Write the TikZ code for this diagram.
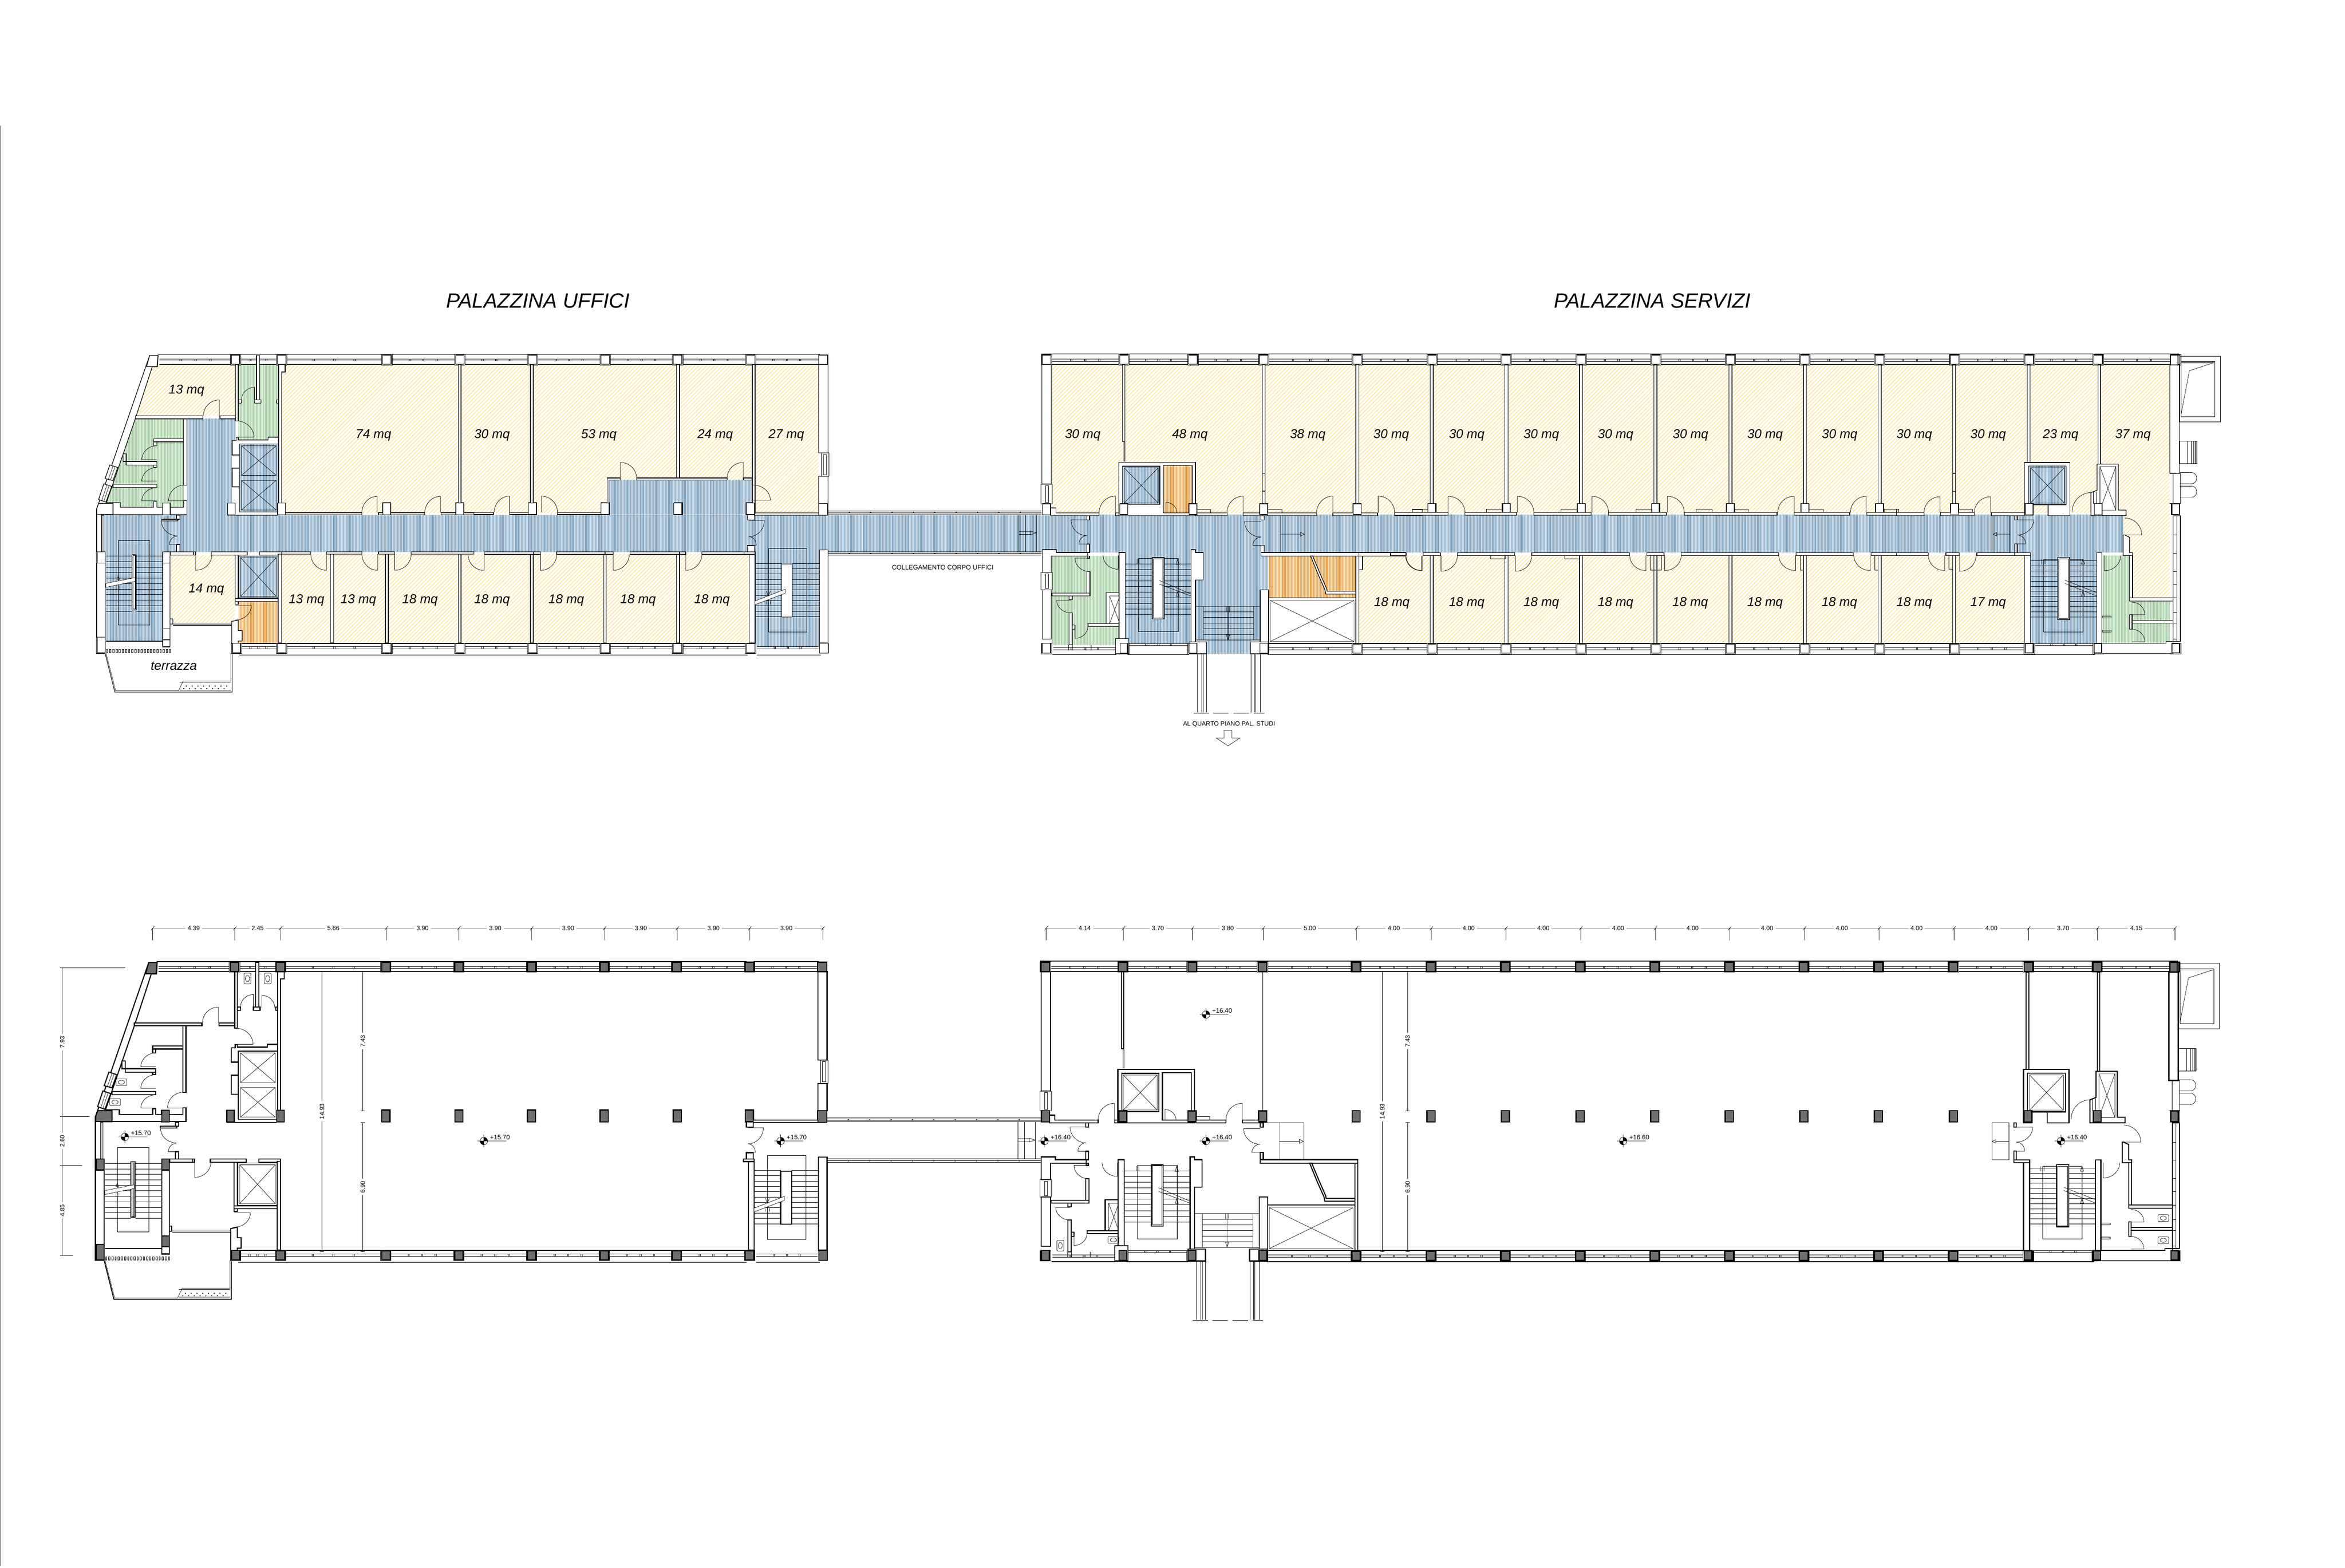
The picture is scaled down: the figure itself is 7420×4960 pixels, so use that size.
\documentclass[tikz,border=0pt]{standalone}
\usepackage{fontspec}
\setmainfont{Liberation Sans}
\usetikzlibrary{calc,patterns.meta}
\definecolor{stblue}{HTML}{7FA3BF}
\definecolor{stgreen}{HTML}{95C492}
\definecolor{storange}{HTML}{E99C40}
\definecolor{paleblue}{HTML}{CBDAE6}
\definecolor{palegreen}{HTML}{D8EAD6}
\definecolor{paleorange}{HTML}{F8DDB8}
\definecolor{hatchy}{HTML}{FFE48C}
\definecolor{pilgray}{HTML}{6E6E6E}
\tikzset{
 z1/.style={shift={(200,1000)},xscale=.8291,yscale=.8291},
 z2/.style={shift={(1500,1000)},xscale=1.2755,yscale=.7015},
 z3/.style={shift={(3200,1000)},xscale=.8291,yscale=.8929},
 z4/.style={shift={(6000,1000)},xscale=.7653,yscale=.7653},
 z9/.style={shift={(4400,1000)},xscale=1.0842,yscale=.7653},
 yel/.style={preaction={fill=white},pattern={Lines[angle=45,distance=2.5pt,line width=.55pt]},pattern color=hatchy},
 blu/.style={preaction={fill=paleblue},pattern={Lines[angle=90,distance=1.31pt,line width=.55pt]},pattern color=stblue},
 gre/.style={preaction={fill=palegreen},pattern={Lines[angle=90,distance=1.31pt,line width=.4pt]},pattern color=stgreen},
 ora/.style={preaction={fill=paleorange},pattern={Lines[angle=90,distance=1.31pt,line width=.55pt]},pattern color=storange},
 wall/.style={draw=black,fill=white,line width=.55pt},
 wline/.style={draw=black,line width=.5pt},
 thinl/.style={draw=black,line width=.3pt},
 doorl/.style={draw=black,line width=.32pt},
 pil/.style={draw=black,fill=white,line width=.55pt},
 pilo/.style={draw=black,fill=white,line width=.3pt},
 roomlab/.style={font=\fontsize{11.5}{12}\selectfont\itshape,inner sep=0pt,yshift=-1pt},
 smalllab/.style={font=\fontsize{5.8}{6}\selectfont,inner sep=0pt},
 dimlab/.style={font=\fontsize{5.6}{6}\selectfont,fill=white,inner sep=2pt},
 levlab/.style={font=\fontsize{5.8}{6}\selectfont,inner sep=0pt},
}
\newcommand\WallR[4]{\draw[wall] (#1,#2) rectangle (#3,#4);}
\newcommand\ThinR[4]{\draw[thinl] (#1,#2) rectangle (#3,#4);}
\newcommand\DoorA[6]{\draw[doorl] (#1,#2)--(#3,#4) .. controls ($(#3,#4)+0.55*(#5,#6)-0.55*(#1,#2)$) and ($(#5,#6)+0.55*(#3,#4)-0.55*(#1,#2)$) .. (#5,#6);}
\newcommand\XBox[4]{\draw[thinl] (#1,#2) rectangle (#3,#4) (#1,#2)--(#3,#4) (#1,#4)--(#3,#2);}
\newcommand\Treads[5]{\foreach \yy in {#3,#4,...,#5}{\draw[thinl] (#1,\yy)--(#2,\yy);}}
\newcommand\Bay[4]{\draw[thinl] (#1,#3)--(#2,#3) (#1,#4)--(#2,#4);
 \foreach \tt in {.29,.5,.71}{\draw[thinl] ({#1+\tt*(#2-#1)-2},#3) rectangle ({#1+\tt*(#2-#1)+2},#4);}}
\newcommand\Pil[4]{\draw[pil] ({#1-#3/2},{#2-#4/2}) rectangle ({#1+#3/2},{#2+#4/2});}
\newcommand\PilO[4]{\draw[pilo] ({#1-#3/2-3},{#2-#4/2-2}) rectangle ({#1+#3/2+3},{#2+#4/2+2});\Pil{#1}{#2}{#3}{#4}}
\newcommand\Mq[3]{\node[roomlab] (m-#1-#2) at (#1,#2) {#3};}
\newcommand\DimH[3]{\draw[thinl] (#1,2937)--(#2,2937) (#2,2937)--(#2,2975) (#2-5,2943)--(#2+5,2931);
 \node[dimlab] (dh-#1) at ({(#1+#2)/2},2937) {#3};}
\newcommand\DimV[4]{\draw[thinl] (#1,#2)--(#1,#3) (#1-7,#2)--(#1+7,#2) (#1-7,#3)--(#1+7,#3);
 \node[dimlab,rotate=90] (dv-#1-#2) at (#1,{(#2+#3)/2}) {#4};}
\newcommand\Level[3]{\fill (#1,#2)--(#1+12,#2) arc[start angle=0,end angle=90,radius=3.4pt]--cycle;
 \fill (#1,#2)--(#1-12,#2) arc[start angle=180,end angle=270,radius=3.4pt]--cycle;
 \draw[thinl] (#1,#2) circle[radius=3.4pt] (#1-20,#2)--(#1+71,#2) (#1,#2-20)--(#1,#2+20);
 \node[levlab] (lv-#1-#2) at (#1+51,#2-12) {#3};}
\newcommand\WCa[2]{\draw[thinl,rounded corners=1pt] (#1-17,#2-11) rectangle (#1+17,#2+11);
 \draw[thinl] (#1,#2) ellipse[x radius=2.8pt,y radius=1.8pt];}
\newcommand\WCb[2]{\draw[thinl,rounded corners=1pt] (#1-11,#2-17) rectangle (#1+11,#2+17);
 \draw[thinl] (#1,#2) ellipse[x radius=1.8pt,y radius=2.8pt];}

% ---------- coloured floors (upper plan only)
\newcommand\FloorFills{
 \path[yel] (891,1153) rectangle (2380,1622);
 \path[yel] (2390,1153) rectangle (2590,1624);
 \path[yel] (891,1753) rectangle (2371,2035);
 \path[yel] (3328,1153) rectangle (6865,1622);
 \path[yel] (4300,1758) rectangle (6405,2036);
 \begin{scope}[z1]
  \path[yel] (340,185)--(658,185)--(658,380)--(278,380)--cycle;
  \path[yel] (410,912)--(655,912)--(655,1172)--(420,1172)--(410,1160)--cycle;
  \path[blu] (472,392) rectangle (658,475);
  \path[blu] (472,475) rectangle (645,760);
  \path[blu] (155,760) rectangle (445,900);
  \path[blu] (163,900) rectangle (380,1240);
  \path[blu] (672,488) rectangle (822,748);
  \path[blu] (670,915) rectangle (820,1075);
  \path[gre] (275,392)--(460,392)--(460,730)--(218,730)--(218,712)--(165,712)--cycle;
  \path[gre] (668,185)--(822,185)--(822,462)--(782,462)--(782,473)--(668,473)--cycle;
  \path[ora] (670,1090) rectangle (820,1250);
 \end{scope}
 \path[blu] (569,1630) rectangle (2368,1746);
 \path[blu] (2368,1628) rectangle (6718,1748);
 \begin{scope}[z2]
  \path[blu] (335,740) rectangle (690,895);
  \path[blu] (697,1063) rectangle (857,1492);
 \end{scope}
 \begin{scope}[z3]
  \path[blu] (425,532) rectangle (567,668);
  \path[ora] (580,530) rectangle (690,697);
  \path[blu] (435,838) rectangle (686,1160);
  \path[blu] (703,838)--(980,838)--(980,970)--(950,970)--(950,1148)--(915,1148)--(915,1197)--(745,1197)--(745,1148)--(703,1148)--cycle;
  \path[ora] (982,850) rectangle (1315,998);
  \path[gre] (155,850)--(415,850)--(415,980)--(362,980)--(362,1090)--(293,1090)--(293,1100)--(415,1100)--(415,1165)--(155,1165)--cycle;
 \end{scope}
 \begin{scope}[z4]
  \path[yel] (938,812)--(1131,812)--(1131,1165)--(977,1165)--(977,978)--(938,978)--cycle;
  \path[gre] (852,990)--(965,990)--(965,1178)--(1130,1178)--(1130,1345)--(1115,1353)--(852,1353)--cycle;
  \path[blu] (555,978) rectangle (828,1353);
  \path[blu] (547,620) rectangle (703,780);
 \end{scope}
}

% ---------- structure common to both plans (upper-plan coordinates)
\newcommand\Structure{
 % --- left building bands
 \draw[wline] (498,1121)--(2365,1121) (2388,1121)--(2594,1121) (505,1153)--(878,1153) (904,1153)--(2590,1153);
 \foreach \aa/\bb in {505/732,758/878,904/1211,1237/1441,1468/1671,1699/1902,1928/2131,2158/2361,2388/2590}{\Bay{\aa}{\bb}{1136}{1142}}
 \draw[wline] (757,2072)--(2365,2072) (2395,2072)--(2597,2072) (757,2036)--(2361,2036);
 \foreach \aa/\bb in {757/878,904/1211,1237/1441,1468/1671,1699/1902,1928/2131,2158/2361,2395/2590}{\Bay{\aa}{\bb}{2046}{2053}}
 \foreach \cc in {745,891,1224,1455,1685,1915,2144,2375}{\PilO{\cc}{1138}{27}{29}}
 \foreach \cc in {749,891,1224,1455,1685,1915,2144,2375}{\PilO{\cc}{2051}{27}{29}}
 \foreach \cc in {1224,1455,1685,1915,2146,2374}{\Pil{\cc}{1610}{26}{38}}
 \Pil{526}{1610}{24}{36}
 \begin{scope}[z1]
  \draw[wall] (330,150)--(362,150)--(360,193)--(340,193)--(275,392)--(165,712)--(190,712)--(190,757)--(128,757)--(128,735)--cycle;
  \draw[pil] (330,150)--(362,150)--(358,193)--(318,193)--cycle;
  \draw[pil] (135,715)--(190,715)--(190,757)--(128,757)--(128,735)--cycle;
  \draw[wall] (178,568)--(208,578)--(190,628)--(160,620)--cycle;
  \draw[thinl] (190,572)--(172,624) (198,575)--(180,626);
  \draw[wall] (155,640)--(185,650)--(163,710)--(135,700)--cycle;
  \draw[thinl] (167,644)--(147,704) (175,647)--(155,707);
  \WallR{275}{380}{533}{392}
  \WallR{598}{380}{668}{392}
  \WallR{460}{392}{472}{645}
  \WallR{460}{705}{472}{757}
  \WallR{658}{185}{668}{400}
  \draw[wall] (822,185)--(847,185)--(847,213)--(833,213)--(833,750)--(822,750)--cycle;
  \WallR{668}{320}{680}{332}
  \WallR{815}{320}{822}{332}
  % white strip beside the lifts, with its stepped pieces of wall
  \fill[white] (645,475) rectangle (672,760);
  \fill[white] (672,748) rectangle (822,760);
  \draw[wline] (627,760)--(818,760);
  \draw[wall] (660,463)--(668,463)--(668,473)--(782,473)--(782,462)--(822,462)--(822,488)--(672,488)--(672,530)--(645,530)--(645,475)--(660,475)--cycle;
  \WallR{645}{580}{672}{652}
  \draw[wall] (672,488) rectangle (672,748);
  \ThinR{672}{488}{822}{748}
  \XBox{680}{495}{813}{608}
  \XBox{680}{627}{813}{740}
  \Pil{642}{736}{29}{44}
  \Pil{833}{736}{29}{44}
  \WallR{738}{150}{750}{320}
  \WallR{730}{320}{755}{332}
  \DoorA{596}{380}{596}{320}{535}{380}
  \DoorA{730}{320}{730}{272}{680}{320}
  \DoorA{660}{462}{728}{462}{660}{400}
  % WC block
  \WallR{345}{468}{460}{480}
  \WallR{345}{480}{357}{495}
  \WallR{240}{555}{357}{568}
  \WallR{345}{568}{357}{578}
  \WallR{190}{642}{357}{655}
  \draw[wall] (228,525)--(240,525)--(240,555)--(228,555)--cycle;
  \draw[wall] (190,712)--(218,712)--(218,730)--(345,730)--(345,708)--(357,708)--(357,730)--(460,730)--(460,705)--(472,705)--(472,757)--(190,757)--cycle;
  \Pil{394}{736}{29}{44}
  \DoorA{357}{548}{300}{548}{357}{495}
  \DoorA{357}{630}{300}{630}{357}{578}
  \DoorA{357}{705}{300}{705}{357}{655}
  \DoorA{462}{705}{402}{705}{462}{645}
  % lobby + stair
  \WallR{128}{757}{147}{900}
  \ThinR{147}{760}{155}{900}
  \WallR{128}{942}{160}{1225}
  \Pil{145}{921}{30}{42}
  \Pil{145}{1255}{30}{60}
  \draw[wline] (126,735)--(126,1287)--(160,1287);
  \WallR{432}{760}{445}{775}
  \WallR{375}{775}{437}{782}
  \WallR{432}{872}{445}{900}
  \DoorA{435}{782}{375}{782}{435}{838}
  \DoorA{435}{872}{405}{872}{435}{840}
  \WallR{380}{942}{408}{1193}
  \WallR{408}{1155}{418}{1175}
  \Pil{394}{921}{28}{42}
  \Pil{394}{1214}{28}{42}
  \WallR{380}{1235}{408}{1262}
  \Treads{163}{262}{916}{937}{1126}
  \Treads{280}{380}{916}{937}{1126}
  \ThinR{210}{856}{330}{1178}
  \draw[wall] (262,910) rectangle (278,1122);
  \ThinR{266}{914}{274}{1118}
  \draw[thinl,fill=white] (163,1020)--(275,998)--(275,1012)--(163,1035)--cycle;
  \draw[thinl] (210,990)--(205,1005)--(215,1005)--cycle (205,1030)--(205,1045) (215,1030)--(215,1045);
  % bottom walls, small elevator
  \WallR{410}{900}{498}{912}
  \WallR{498}{900}{505}{912}
  \WallR{565}{900}{702}{912}
  \WallR{750}{900}{833}{912}
  \DoorA{505}{912}{505}{970}{567}{912}
  \WallR{656}{912}{668}{1100}
  \WallR{656}{1078}{820}{1090}
  \WallR{820}{908}{833}{1248}
  \ThinR{670}{915}{820}{1075}
  \XBox{677}{922}{813}{1070}
  \DoorA{656}{1105}{718}{1105}{656}{1160}
  \draw[wall] (643,1165)--(668,1160)--(668,1200)--(683,1200)--(683,1240)--(668,1240)--(668,1250)--(643,1250)--cycle;
  \Pil{662}{1267}{30}{36}
  \draw[thinl] (420,1175)--(642,1175) (420,1180)--(642,1180);
  \foreach \xx in {165,177,...,410}{\draw[thinl] (\xx,1272) rectangle (\xx+5,1285);}
  \draw[thinl] (163,1242)--(378,1242) (163,1240)--(378,1240);
  % terrace
  \draw[wline] (160,1287)--(197,1435)--(645,1435)--(645,1290);
  \draw[thinl] (163,1285)--(200,1430)--(440,1430)--(458,1393)--(640,1393)--(640,1285);
  \draw[thinl] (445,1397)--(640,1397) (445,1427)--(640,1427);
  \foreach \xx in {470,492,...,640}{\fill (\xx,1412) circle[radius=.7pt]; \fill (\xx-10,1422) circle[radius=.7pt];}
 \end{scope}
 \begin{scope}[z2]
  \WallR{855}{218}{878}{617}
  \ThinR{862}{617}{880}{722}
  \ThinR{866}{625}{874}{715}
  \WallR{855}{722}{878}{845}
  \Pil{866}{197}{23}{42}
  \Pil{866}{872}{23}{52}
  \WallR{695}{888}{855}{898}
  \WallR{678}{895}{695}{920}
  \WallR{678}{1035}{695}{1063}
  \DoorA{682}{922}{720}{922}{682}{995}
  \DoorA{682}{1033}{700}{1033}{682}{995}
  \WallR{670}{1063}{697}{1075}
  \WallR{683}{1075}{697}{1475}
  \WallR{857}{1055}{878}{1475}
  \Pil{868}{1498}{21}{45}
  \Treads{697}{763}{1115}{1139}{1360}
  \Treads{790}{857}{1115}{1139}{1360}
  \ThinR{730}{1048}{825}{1425}
  \draw[wall] (763,1118) rectangle (790,1357);
  \draw[thinl,fill=white] (697,1285)--(772,1232)--(772,1250)--(697,1302)--cycle;
  \draw[thinl] (725,1240)--(730,1262)--(735,1240) (725,1285)--(725,1300) (735,1285)--(735,1300);
  % connection
  \draw[thinl] (878,878)--(1408,878) (878,888)--(1408,888) (878,895)--(1408,895);
  \draw[thinl] (878,1063)--(1408,1063) (878,1070)--(1408,1070) (878,1078)--(1408,1078);
  \foreach \xx in {931,984,...,1400}{\fill (\xx,885) circle[radius=.6pt]; \fill (\xx,1072) circle[radius=.6pt];}
  \draw[thinl] (1352,895)--(1352,1063) (1368,895)--(1368,1063) (1395,895)--(1395,1063);
  \draw[thinl] (1352,972)--(1380,972) (1352,985)--(1380,985) (1380,970)--(1395,978)--(1380,986)--cycle;
 \end{scope}
 % --- right building bands
 \draw[wline] (3294,1120)--(6895,1120) (3327,1153)--(6868,1153);
 \foreach \aa/\bb in {3327/3540,3572/3759,3791/3982,4014/4278,4310/4515,4547/4750,4782/4987,5019/5223,5255/5459,5491/5695,5727/5931,5963/6168,6200/6405,6437/6623,6655/6868}{\Bay{\aa}{\bb}{1136}{1143}}
 \foreach \cc in {3311,3556,3775,3998,4294,4531,4766,5003,5239,5475,5711,5947,6184,6421,6639,6884}{\PilO{\cc}{1138}{27}{29}}
 \foreach \aa/\bb in {4014/4278,4310/4515,4547/4750,4782/4987,5019/5223,5255/5459,5491/5695,5727/5931,5963/6168,6200/6405}{\Bay{\aa}{\bb}{2049}{2056}}
 \Bay{3333}{3530}{2049}{2056}
 \Bay{3572}{3759}{2036}{2042}
 \Bay{6437}{6623}{2036}{2042}
 \draw[wline] (3330,2071)--(3532,2071) (3568,2071)--(3762,2071) (4011,2071)--(6629,2071) (6629,2067)--(6895,2067) (4011,2036)--(6405,2036);
 \foreach \cc in {3311,3556,3775,3998,4294,4531,4766,5003,5239,5475,5711,5947,6184,6421,6639,6884}{\PilO{\cc}{2052}{27}{29}}
 \foreach \cc in {3311,3556,3775,3998,4294,4531,4766,5003,5239,5475,5711,5947,6184,6420,6639,6884}{\Pil{\cc}{1611}{26}{36}}
 \begin{scope}[z3]
  \WallR{117}{172}{153}{595}
  \ThinR{113}{595}{155}{665}
  \ThinR{130}{600}{142}{660}
  \draw[wall] (118,828)--(172,828)--(172,838)--(290,838)--(290,850)--(153,850)--(153,908)--(118,908)--cycle;
  \ThinR{113}{908}{155}{970}
  \ThinR{130}{914}{142}{965}
  \WallR{118}{970}{153}{1145}
  \draw[wall] (150,680)--(170,680)--(170,697)--(335,697)--(335,707)--(150,707)--cycle;
  \draw[wall,even odd rule] (410,518) rectangle (703,707) (425,532) rectangle (567,668) (580,530) rectangle (690,697);
  \ThinR{425}{532}{567}{668}
  \XBox{431}{538}{560}{662}
  \Pil{429}{684}{30}{38}
  \Pil{693}{684}{30}{38}
  \WallR{424}{172}{433}{445}
  \draw[thinl] (429,445)--(429,515) (433,445)--(433,515);
  \WallR{708}{697}{823}{707}
  \WallR{885}{697}{953}{707}
  \WallR{398}{697}{410}{707}
  \DoorA{397}{697}{397}{638}{335}{697}
  \DoorA{885}{697}{885}{638}{823}{697}
  \DoorA{590}{697}{590}{660}{632}{697}
  \ThinR{708}{685}{760}{697}
  \Pil{963}{684}{30}{38}
  % double doors
  \WallR{288}{707}{298}{722}
  \WallR{288}{808}{298}{838}
  \DoorA{288}{722}{228}{722}{288}{778}
  \DoorA{288}{808}{258}{808}{288}{778}
  \WallR{953}{707}{965}{722}
  \WallR{953}{812}{965}{848}
  \DoorA{953}{728}{890}{728}{953}{783}
  \DoorA{953}{812}{922}{812}{953}{783}
  \draw[thinl] (965,707)--(1120,707) (1027,707)--(1027,838) (1120,707)--(1120,838) (1027,773)--(1103,773) (1103,766)--(1118,773)--(1103,780)--cycle;
  \WallR{953}{838}{1326}{850}
  % green services
  \WallR{288}{905}{300}{992}
  \WallR{155}{982}{300}{992}
  \WallR{220}{992}{232}{1005}
  \WallR{220}{1052}{232}{1165}
  \WallR{232}{1095}{243}{1110}
  \WallR{293}{1090}{415}{1100}
  \WallR{362}{980}{415}{1090}
  \XBox{375}{992}{414}{1090}
  \WallR{290}{850}{298}{858}
  \DoorA{297}{858}{243}{858}{297}{905}
  \DoorA{408}{848}{408}{897}{350}{848}
  \DoorA{228}{1007}{173}{1007}{228}{1052}
  \DoorA{243}{1097}{243}{1142}{293}{1097}
  \WallR{411}{838}{435}{1160}
  \WallR{398}{1143}{448}{1197}
  \Pil{429}{1177}{28}{34}
  \Pil{134}{1177}{30}{34}
  \draw[thinl] (218,1165)--(218,1185) (232,1165)--(232,1185) (285,1175)--(285,1185) (305,1165)--(305,1185);
  % central stair
  \draw[wall] (686,828)--(703,828)--(703,838)--(732,838)--(732,935)--(703,935)--(703,1160)--(686,1160)--cycle;
  \Treads{435}{538}{878}{898}{1058}
  \Treads{583}{686}{878}{898}{1058}
  \ThinR{485}{858}{638}{1118}
  \draw[wall] (538,856) rectangle (583,1073);
  \ThinR{542}{860}{579}{1069}
  \draw[thinl] (565,937)--(686,985) (565,950)--(686,992);
  \draw[thinl] (635,860)--(635,1118) (629,880)--(635,860)--(641,880)--cycle (629,993)--(635,975)--(641,993)--cycle (480,860)--(480,878) (490,860)--(490,878);
  % south stair
  \draw[thinl] (703,1028)--(950,1028) (703,1148)--(950,1148);
  \Treads{732}{925}{1048}{1068}{1130}
  \ThinR{732}{1028}{925}{1148}
  \draw[thinl] (827,1028)--(827,1148) (821,1130)--(827,1148)--(833,1130)--cycle (822,1028)--(822,1048) (832,1028)--(832,1048);
  \WallR{950}{970}{982}{1160}
  \WallR{678}{1155}{745}{1197}
  \WallR{913}{1155}{982}{1197}
  \Pil{693}{1177}{30}{34}
  \Pil{964}{1177}{30}{34}
  % big shaft + diagonal wall
  \draw[wall] (982,998)--(1315,998)--(1315,1160)--(982,1160)--cycle;
  \XBox{988}{1008}{1308}{1153}
  \draw[wall] (1142,850)--(1150,850)--(1178,912)--(1203,965)--(1205,975)--(1315,975)--(1315,985)--(1200,985)--(1197,970)--(1172,918)--cycle;
  \WallR{1315}{850}{1326}{1160}
  % bridge south
  \draw[thinl] (710,1197)--(710,1405) (727,1197)--(727,1405) (732,1197)--(732,1405) (745,1197)--(745,1405);
  \draw[thinl] (915,1197)--(915,1405) (927,1197)--(927,1405) (932,1197)--(932,1405) (950,1197)--(950,1405);
  \draw[thinl,dash pattern=on 14pt off 4pt] (695,1407)--(965,1407);
 \end{scope}
 \begin{scope}[z4]
  \WallR{1131}{202}{1170}{650}
  \ThinR{1145}{650}{1175}{775}
  \draw[thinl] (1131,650)--(1145,650) (1131,775)--(1145,775);
  \WallR{1145}{825}{1175}{1345}
  \draw[thinl] (1160,825)--(1160,1345);
  \foreach \yy in {905,980,1055,1110,1165,1225,1270,1335}{\draw[thinl] (1145,\yy)--(1160,\yy);}
  % balcony and outer stair
  \draw[thinl] (1172,165) rectangle (1340,437) (1177,188) rectangle (1317,415);
  \draw[thinl] (1177,193)--(1312,193)--(1212,226)--(1177,410)--cycle;
  \draw[thinl] (1172,517) rectangle (1243,610) (1205,517)--(1205,610) (1220,517)--(1220,610) (1230,517)--(1230,610) (1236,517)--(1236,610) (1240,517)--(1240,610);
  \draw[thinl] (1172,647)--(1220,647) .. controls (1250,647) and (1250,693) .. (1220,693)--(1172,693);
  \draw[thinl] (1172,703)--(1220,703) .. controls (1250,703) and (1250,749) .. (1220,749)--(1172,749);
  % elevator and shafts
  \draw[wall,even odd rule] (530,605)--(718,605)--(718,825)--(628,825)--(628,780)--(565,780)--(565,825)--(530,825)--cycle (547,620) rectangle (703,780);
  \ThinR{547}{620}{703}{780}
  \XBox{555}{627}{695}{773}
  \Pil{549}{798}{32}{46}
  \WallR{541}{202}{553}{605}
  \WallR{835}{202}{845}{612}
  \draw[wall] (830,612)--(918,612)--(918,802)--(950,802)--(950,825)--(805,825)--(805,730)--(830,720)--cycle;
  \XBox{842}{622}{908}{803}
  \draw[thinl] (815,725)--(815,775) (828,725)--(828,775);
  \Pil{835}{798}{32}{46}
  \DoorA{805}{810}{805}{730}{727}{810}
  \DoorA{945}{905}{1015}{905}{945}{835}
  \draw[wall] (945,905)--(965,915)--(965,978)--(977,978)--(977,990)--(938,990)--(938,905)--cycle;
  % double door and fire door
  \draw[thinl] (400,825)--(400,978) (470,825)--(470,978) (400,825)--(470,825) (400,978)--(470,978) (415,902)--(470,902) (415,895)--(400,902)--(415,909)--cycle;
  \WallR{490}{825}{500}{843}
  \WallR{490}{942}{500}{978}
  \DoorA{500}{843}{568}{843}{500}{905}
  \DoorA{500}{942}{535}{942}{500}{905}
  \WallR{490}{978}{555}{990}
  \WallR{530}{990}{555}{1353}
  % stair
  \draw[wall] (828,978)--(850,978)--(850,1353)--(828,1353)--cycle;
  \Treads{555}{667}{1012}{1033}{1255}
  \Treads{717}{828}{1012}{1033}{1255}
  \ThinR{610}{1005}{772}{1305}
  \draw[wall] (667,998) rectangle (717,1255);
  \ThinR{672}{1004}{712}{1250}
  \draw[thinl] (697,1092)--(828,1143) (697,1105)--(828,1157);
  \draw[thinl] (772,1005)--(772,1305) (765,1025)--(772,1005)--(779,1025)--cycle (765,1158)--(772,1138)--(779,1158)--cycle (602,1005)--(602,1025) (615,1005)--(615,1025);
  % WC
  \DoorA{860}{990}{860}{1053}{928}{990}
  \WallR{965}{990}{977}{1178}
  \WallR{965}{1165}{1145}{1178}
  \WallR{965}{1235}{975}{1295}
  \WallR{975}{1258}{1145}{1270}
  \DoorA{975}{1235}{1028}{1235}{975}{1183}
  \DoorA{975}{1347}{1028}{1347}{975}{1295}
  \ThinR{852}{1240}{888}{1247}
  \ThinR{852}{1298}{888}{1305}
  % bottom
  \draw[wall] (820,1353)--(1115,1353)--(1115,1345)--(1145,1345)--(1145,1395)--(820,1395)--cycle;
  \Pil{834}{1373}{30}{38}
  \Pil{1155}{1373}{30}{38}
  \Pil{549}{1373}{32}{38}
  \Pil{1155}{798}{30}{44}
  \Pil{1150}{181}{30}{40}
 \end{scope}
}

% ---------- partitions of the offices (upper plan only)
\newcommand\Offices{
 \begin{scope}[z1]
  \WallR{848}{750}{1140}{758}
  \WallR{1203}{750}{1380}{758}
  \WallR{1442}{750}{1498}{758}
  \WallR{1528}{750}{1568}{758}
  \DoorA{1198}{750}{1198}{688}{1140}{750}
  \DoorA{1440}{750}{1440}{688}{1380}{750}
  \WallR{833}{900}{945}{908}
  \WallR{1005}{900}{1140}{908}
  \WallR{1203}{900}{1265}{908}
  \WallR{1328}{900}{1568}{908}
  \DoorA{1005}{908}{1005}{970}{945}{908}
  \DoorA{1200}{908}{1200}{970}{1140}{908}
  \DoorA{1265}{908}{1265}{970}{1328}{908}
  \WallR{1020}{908}{1032}{1248}
  \WallR{1230}{908}{1241}{1248}
  \WallR{1508}{908}{1518}{1248}
  \WallR{1508}{185}{1518}{715}
  \Pil{1235}{736}{29}{44}
  \Pil{1513}{736}{29}{44}
  \Pil{833}{736}{29}{44}
 \end{scope}
 \begin{scope}[z2]
  \WallR{140}{218}{147}{843}
  \WallR{502}{218}{510}{730}
  \WallR{690}{218}{697}{890}
  \WallR{0}{885}{48}{895}
  \WallR{88}{885}{135}{895}
  \WallR{207}{885}{315}{895}
  \DoorA{88}{885}{88}{812}{50}{885}
  \DoorA{167}{885}{167}{812}{207}{885}
  \draw[wall] (315,885)--(330,885)--(330,730)--(363,730)--(363,740)--(335,740)--(335,895)--(315,895)--cycle;
  \WallR{403}{730}{628}{740}
  \WallR{668}{730}{690}{740}
  \DoorA{363}{730}{363}{660}{403}{730}
  \DoorA{668}{730}{668}{660}{628}{730}
  \DoorA{692}{830}{735}{830}{692}{762}
  \WallR{25}{1063}{148}{1075}
  \WallR{148}{1063}{165}{1075}
  \WallR{205}{1063}{325}{1075}
  \WallR{325}{1063}{345}{1075}
  \WallR{387}{1063}{510}{1075}
  \WallR{510}{1063}{525}{1075}
  \WallR{565}{1063}{670}{1075}
  \DoorA{25}{1075}{25}{1147}{-15}{1075}
  \DoorA{165}{1075}{165}{1147}{205}{1075}
  \DoorA{345}{1075}{345}{1147}{385}{1075}
  \DoorA{525}{1075}{525}{1147}{565}{1075}
  \WallR{140}{1075}{147}{1475}
  \WallR{322}{1075}{328}{1475}
  \WallR{502}{1075}{510}{1475}
  \Pil{145}{869}{20}{52}
  \Pil{325}{869}{20}{52}
  \Pil{505}{869}{20}{52}
  \Pil{686}{869}{20}{52}
 \end{scope}
 \begin{scope}[z3]
  \WallR{958}{172}{968}{558}
  \draw[thinl] (958,558)--(958,620) (968,558)--(968,620);
  \WallR{958}{620}{968}{665}
  \WallR{978}{697}{1165}{707}
  \WallR{1227}{697}{1397}{707}
  \WallR{1463}{697}{1568}{707}
  \DoorA{1227}{697}{1227}{638}{1165}{697}
  \DoorA{1400}{697}{1400}{638}{1463}{697}
  \ThinR{978}{685}{1032}{697}
  \ThinR{1530}{685}{1568}{697}
  \WallR{1315}{172}{1326}{665}
  \Pil{1320}{684}{30}{38}
  \WallR{1326}{850}{1340}{898}
  \WallR{1326}{838}{1505}{850}
  \DoorA{1565}{850}{1565}{902}{1505}{850}
  \Pil{963}{684}{30}{38}
 \end{scope}
 \begin{scope}[z9]
  \foreach \cc in {120,338,556,773,992,1209,1427}{
   \WallR{\cc-4.5}{202}{\cc+4.5}{775}
   \WallR{\cc-4.5}{990}{\cc+4.5}{1353}
   \Pil{\cc}{798}{22}{46}
  }
  \foreach \aa/\bb in {12/168,217/368,418/585,636/805,857/1128,1178/1340,1390/1557}{\WallR{\aa}{812}{\bb}{824}}
  \foreach \aa/\bb in {0/45,95/145,195/362,412/697,748/798,848/1133,1183/1350,1402/1568}{\WallR{\aa}{978}{\bb}{990}}
  \DoorA{168}{812}{168}{745}{217}{812}
  \DoorA{370}{812}{370}{745}{418}{812}
  \DoorA{588}{812}{588}{745}{636}{812}
  \DoorA{808}{812}{808}{745}{857}{812}
  \DoorA{1178}{812}{1178}{745}{1130}{812}
  \DoorA{1388}{812}{1388}{745}{1342}{812}
  \foreach \aa/\bb in {63/108,280/328,498/545,717/763,892/938,1005/1043,1222/1262,1440/1483}{\ThinR{\aa}{797}{\bb}{812}}
  \DoorA{92}{990}{92}{1052}{45}{990}
  \DoorA{147}{990}{147}{1055}{195}{990}
  \DoorA{365}{990}{365}{1055}{412}{990}
  \DoorA{745}{990}{745}{1052}{698}{990}
  \DoorA{800}{990}{800}{1052}{848}{990}
  \DoorA{1182}{990}{1182}{1052}{1133}{990}
  \DoorA{1400}{990}{1400}{1052}{1352}{990}
  \ThinR{292}{990}{335}{1004}
  \ThinR{508}{990}{552}{1004}
  \ThinR{758}{990}{790}{1050}
  \ThinR{1195}{990}{1204}{1050}
  \ThinR{1413}{990}{1422}{1050}
 \end{scope}
 \begin{scope}[z4]
  \WallR{0}{812}{115}{825}
  \WallR{183}{812}{323}{825}
  \WallR{393}{812}{530}{825}
  \DoorA{181}{812}{181}{747}{115}{812}
  \DoorA{390}{812}{390}{747}{323}{812}
  \ThinR{0}{797}{10}{812}
  \ThinR{255}{797}{315}{812}
  \WallR{0}{978}{133}{990}
  \WallR{205}{978}{260}{990}
  \WallR{333}{978}{490}{990}
  \DoorA{200}{990}{200}{1052}{133}{990}
  \DoorA{262}{990}{262}{1055}{330}{990}
  \WallR{233}{990}{245}{1353}
  \WallR{233}{202}{245}{650}
  \draw[thinl] (233,650)--(233,725) (245,650)--(245,725);
  \WallR{233}{725}{245}{775}
  \ThinR{218}{990}{233}{1047}
  \Pil{241}{798}{30}{46}
 \end{scope}
}

\begin{document}
\begin{tikzpicture}[x=0.01cm,y=-0.01cm]
\useasboundingbox (0,0) rectangle (7420,4960);
\fill[white] (0,0) rectangle (7420,4960);
\draw[draw=black!40,line width=.8pt] (1,397)--(1,4955);

% ---- upper plan
\FloorFills
\Structure
\Offices
\node[font=\fontsize{18.6}{20}\selectfont\itshape,inner sep=0pt] (titleA) at (1702,951) {PALAZZINA UFFICI};
\node[font=\fontsize{18.6}{20}\selectfont\itshape,inner sep=0pt] (titleB) at (5228,951) {PALAZZINA SERVIZI};
\Mq{590}{1232}{13 mq}
\Mq{1182}{1373}{74 mq}
\Mq{1557}{1373}{30 mq}
\Mq{1895}{1373}{53 mq}
\Mq{2263}{1373}{24 mq}
\Mq{2488}{1373}{27 mq}
\Mq{653}{1862}{14 mq}
\Mq{970}{1895}{13 mq}
\Mq{1134}{1895}{13 mq}
\Mq{1329}{1895}{18 mq}
\Mq{1557}{1896}{18 mq}
\Mq{1792}{1896}{18 mq}
\Mq{2019}{1896}{18 mq}
\Mq{2253}{1896}{18 mq}
\Mq{550}{2103}{terrazza}
\Mq{3426}{1373}{30 mq}
\Mq{3765}{1373}{48 mq}
\Mq{4138}{1373}{38 mq}
\Mq{4402}{1373}{30 mq}
\Mq{4641}{1373}{30 mq}
\Mq{4877}{1373}{30 mq}
\Mq{5112}{1373}{30 mq}
\Mq{5349}{1373}{30 mq}
\Mq{5585}{1373}{30 mq}
\Mq{5821}{1373}{30 mq}
\Mq{6057}{1373}{30 mq}
\Mq{6291}{1373}{30 mq}
\Mq{6520}{1373}{23 mq}
\Mq{6749}{1373}{37 mq}
\Mq{4404}{1904}{18 mq}
\Mq{4641}{1905}{18 mq}
\Mq{4877}{1905}{18 mq}
\Mq{5112}{1905}{18 mq}
\Mq{5348}{1905}{18 mq}
\Mq{5585}{1905}{18 mq}
\Mq{5820}{1905}{18 mq}
\Mq{6057}{1905}{18 mq}
\Mq{6291}{1905}{17 mq}
\node[smalllab] (colleg) at (2983,1796) {COLLEGAMENTO CORPO UFFICI};
\node[smalllab,font=\fontsize{5.6}{6}\selectfont] (quarto) at (3889,2292) {AL QUARTO PIANO PAL. STUDI};
\begin{scope}[z3]
 \draw[thinl,fill=white] (812,1468)--(842,1468)--(842,1495)--(872,1495)--(827,1523)--(782,1495)--(812,1495)--cycle;
\end{scope}

% ---- lower plan: same structure, heavier lines, grey pillars
\begin{scope}[shift={(-3,1921)},
  wall/.style={draw=black,fill=white,line width=.95pt},
  wline/.style={draw=black,line width=.85pt},
  pil/.style={draw=black,fill=pilgray,line width=1pt},
  pilo/.style={draw=black,fill=white,line width=.45pt}]
 \Structure
 \draw[thinl] (3998,1153)--(3998,1594);
\end{scope}
% lower plan: sanitary fittings and the second WC door
\begin{scope}[shift={(150,2850)},xscale=.8929,yscale=.8929]
 \DoorA{760}{380}{760}{335}{806}{380}
\end{scope}
\WCa{384}{3424}
\WCa{364}{3487}
\WCb{783}{3096}
\WCb{847}{3096}
\WCa{3523}{3923}
\WCb{3355}{3941}
\WCa{6845}{3854}
\WCa{6845}{3924}

% dimension chains
\foreach \aa/\bb/\tx in {483/743/4.39,743/887.5/2.45,887.5/1222/5.66,1222/1452/3.90,1452/1682.5/3.90,1682.5/1913/3.90,1913/2143/3.90,2143/2372.5/3.90,2372.5/2604/3.90,3310/3554.5/4.14,3554.5/3773/3.70,3773/3997/3.80,3997/4292/5.00,4292/4529/4.00,4529/4765/4.00,4765/5002/4.00,5002/5238/4.00,5238/5473/4.00,5473/5710/4.00,5710/5946/4.00,5946/6183/4.00,6183/6419/4.00,6419/6637/3.70,6637/6882/4.15}{\DimH{\aa}{\bb}{\tx}}
\draw[thinl] (483,2937)--(483,2975) (478,2943)--(488,2931) (3310,2937)--(3310,2975) (3305,2943)--(3315,2931);
% left vertical chain
\DimV{197}{3062}{3533}{7.93}
\DimV{197}{3533}{3687}{2.60}
\DimV{197}{3687}{3972}{4.85}
\draw[thinl] (197,3062)--(396,3062) (197,3533)--(284,3533) (197,3687)--(259,3687) (197,3972)--(232,3972);
% interior dimensions
\DimV{1019}{3073}{3960}{14.93}
\DimV{1148}{3073}{3515}{7.43}
\DimV{1148}{3551}{3960}{6.90}
\DimV{4374}{3073}{3960}{14.93}
\DimV{4454}{3073}{3515}{7.43}
\DimV{4454}{3551}{3960}{6.90}
% levels
\Level{395}{3597}{+15.70}
\Level{1531}{3610}{+15.70}
\Level{2470}{3610}{+15.70}
\Level{3816}{3210}{+16.40}
\Level{3305}{3610}{+16.40}
\Level{3816}{3610}{+16.40}
\Level{5136}{3610}{+16.60}
\Level{6521}{3610}{+16.40}
\end{tikzpicture}
\end{document}
